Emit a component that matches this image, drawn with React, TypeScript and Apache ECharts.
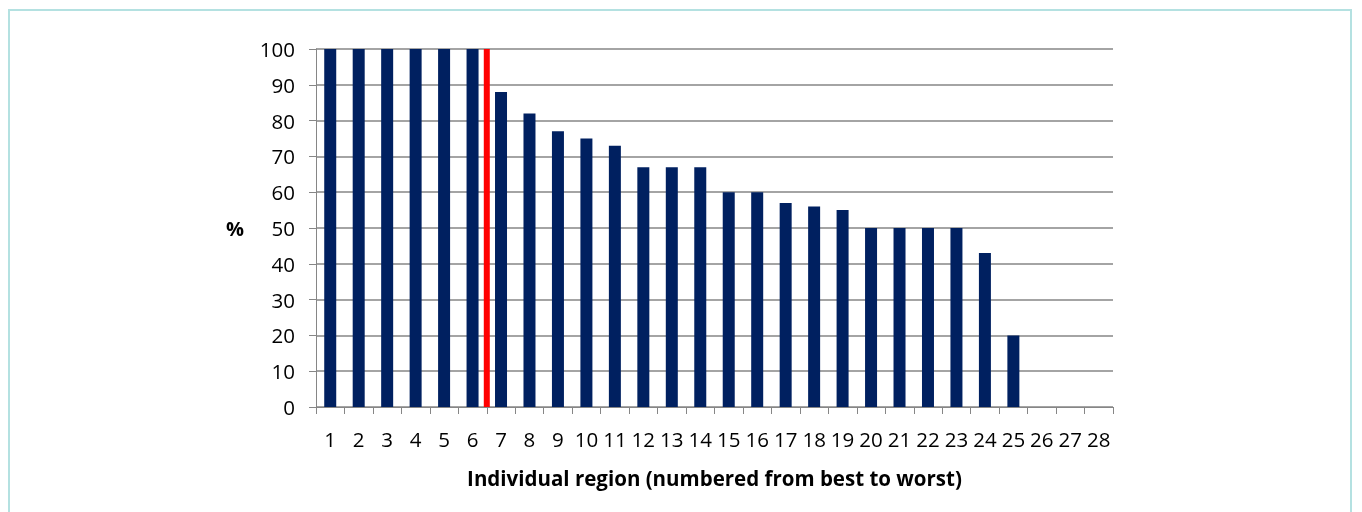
import React, { useEffect, useRef } from "react";
import * as echarts from "echarts";

const categories = Array.from({ length: 28 }, (_, i) => String(i + 1));
const values: (number | null)[] = [
  100, 100, 100, 100, 100, 100, 88, 82, 77, 75, 73, 67, 67, 67, 60, 60, 57, 56, 55, 50, 50, 50, 50, 43, 20, 0, 0, 0,
];
const dividerPosition = 6; // boundary after region 6
const dividerRange = [0, 100];
const yTicks = { min: 0, max: 100, interval: 10 };
const xTitle = "Individual region (numbered from best to worst)";
const yTitle = "%";

export default function App() {
  const ref = useRef<HTMLDivElement>(null);
  useEffect(() => {
    if (!ref.current) return;
    const chart = echarts.init(ref.current, undefined, { renderer: "svg" });
    const font = "'Open Sans', Lato, sans-serif";
    chart.setOption({
      animation: false,
      textStyle: { fontFamily: font },
      grid: { left: 316, right: 249, top: 49, bottom: 105, containLabel: false },
      xAxis: [
        {
          type: "category",
          data: categories,
          axisLine: { show: true, lineStyle: { color: "#868686", width: 1 } },
          axisTick: { show: true, length: 7, alignWithLabel: false, lineStyle: { color: "#868686" } },
          axisLabel: { color: "#000", fontSize: 20.5, margin: 21, fontFamily: font, interval: 0 },
          splitLine: { show: false },
          name: xTitle,
          nameLocation: "middle",
          nameGap: 60,
          nameTextStyle: { color: "#000", fontSize: 20.5, fontWeight: "bold", fontFamily: font },
        },
        {
          type: "value",
          min: 0,
          max: categories.length,
          show: false,
        },
      ],
      yAxis: {
        type: "value",
        min: yTicks.min,
        max: yTicks.max,
        interval: yTicks.interval,
        axisLine: { show: true, lineStyle: { color: "#868686", width: 1 } },
        axisTick: { show: true, length: 7, lineStyle: { color: "#868686" } },
        axisLabel: { color: "#000", fontSize: 20.5, margin: 21, fontFamily: font },
        splitLine: { show: true, lineStyle: { color: "#868686", width: 1.5 } },
        name: yTitle,
        nameLocation: "middle",
        nameRotate: 0,
        nameGap: 72,
        nameTextStyle: { color: "#000", fontSize: 20, fontWeight: "bold", fontFamily: font },
      },
      series: [
        {
          type: "bar",
          data: values,
          barWidth: 12,
          itemStyle: { color: "#002060" },
          xAxisIndex: 0,
        },
        {
          type: "line",
          xAxisIndex: 1,
          data: dividerRange.map((v) => [dividerPosition, v]),
          symbol: "none",
          lineStyle: { color: "#ff0000", width: 6, cap: "butt" },
          z: 5,
        },
      ],
    });
    return () => chart.dispose();
  }, []);
  return (
    <>
      <div
        style={{
          position: "fixed",
          left: 8,
          top: 9,
          width: 1344,
          height: 600,
          border: "2px solid #b4e1e1",
          boxSizing: "border-box",
        }}
      />
      <div ref={ref} style={{ position: "fixed", left: 0, top: 0, width: 1362, height: 512 }} />
    </>
  );
}
